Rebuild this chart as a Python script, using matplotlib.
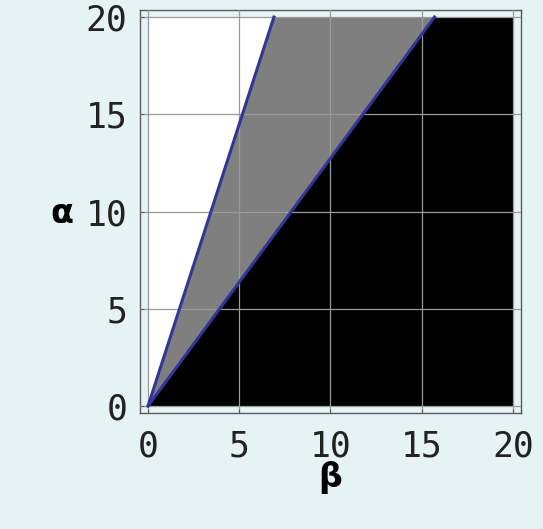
import numpy as np
import matplotlib
matplotlib.use("Agg")
import matplotlib.pyplot as plt

# region boundaries: both lines start at the origin and reach alpha = 20 at these beta values
beta_max = 20
alpha_max = 20
upper_beta_at_top = 6.9
lower_beta_at_top = 15.7
ticks = [0, 5, 10, 15, 20]

bg = "#e5f3f5"
line_color = "#34349a"

fig = plt.figure(figsize=(5.43, 5.29), dpi=100, facecolor=bg)
ax = fig.add_axes([140 / 543, 1 - 413 / 529, 381 / 543, 403 / 529])
ax.set_facecolor(bg)

# white, gray and black regions
white = [(0, 0), (0, alpha_max), (upper_beta_at_top, alpha_max)]
gray = [(0, 0), (upper_beta_at_top, alpha_max), (lower_beta_at_top, alpha_max)]
black = [(0, 0), (lower_beta_at_top, alpha_max), (beta_max, alpha_max), (beta_max, 0)]
for poly, c in [(white, "white"), (gray, "#7f7f7f"), (black, "black")]:
    xs, ys = zip(*poly)
    ax.fill(xs, ys, color=c, lw=0, zorder=1)

ax.grid(True, color="#9a9a9a", lw=0.9, zorder=2)
ax.set_axisbelow(False)

ax.plot([0, upper_beta_at_top], [0, alpha_max], color=line_color, lw=2.2, zorder=3)
ax.plot([0, lower_beta_at_top], [0, alpha_max], color=line_color, lw=2.2, zorder=3)

ax.set_xlim(-0.44, 20.44)
ax.set_ylim(-0.36, 20.36)
ax.set_xticks(ticks)
ax.set_yticks(ticks)
ax.set_xticklabels([str(t) for t in ticks])
ax.set_yticklabels([str(t) for t in ticks])

for s in ax.spines.values():
    s.set_color("#5a5a5a")
    s.set_linewidth(1.0)

ax.tick_params(direction="in", length=3, width=0.8, color="#5a5a5a",
               labelsize=25, labelcolor="#222222")
ax.tick_params(axis="x", pad=12)
ax.tick_params(axis="y", pad=9)
for lab in ax.get_xticklabels() + ax.get_yticklabels():
    lab.set_family("DejaVu Sans Mono")
    lab.set_fontweight("light")

ax.set_ylabel("α", rotation=0, fontsize=24, fontweight="bold", family="DejaVu Sans")
ax.yaxis.set_label_coords(-0.205, 0.496)
ax.yaxis.label.set_va("center")
ax.yaxis.label.set_ha("center")
ax.set_xlabel("β", fontsize=24, fontweight="bold", family="DejaVu Sans")
ax.xaxis.set_label_coords(0.499, -0.161)
ax.xaxis.label.set_va("center")

fig.savefig("out.png", dpi=100, facecolor=bg)
